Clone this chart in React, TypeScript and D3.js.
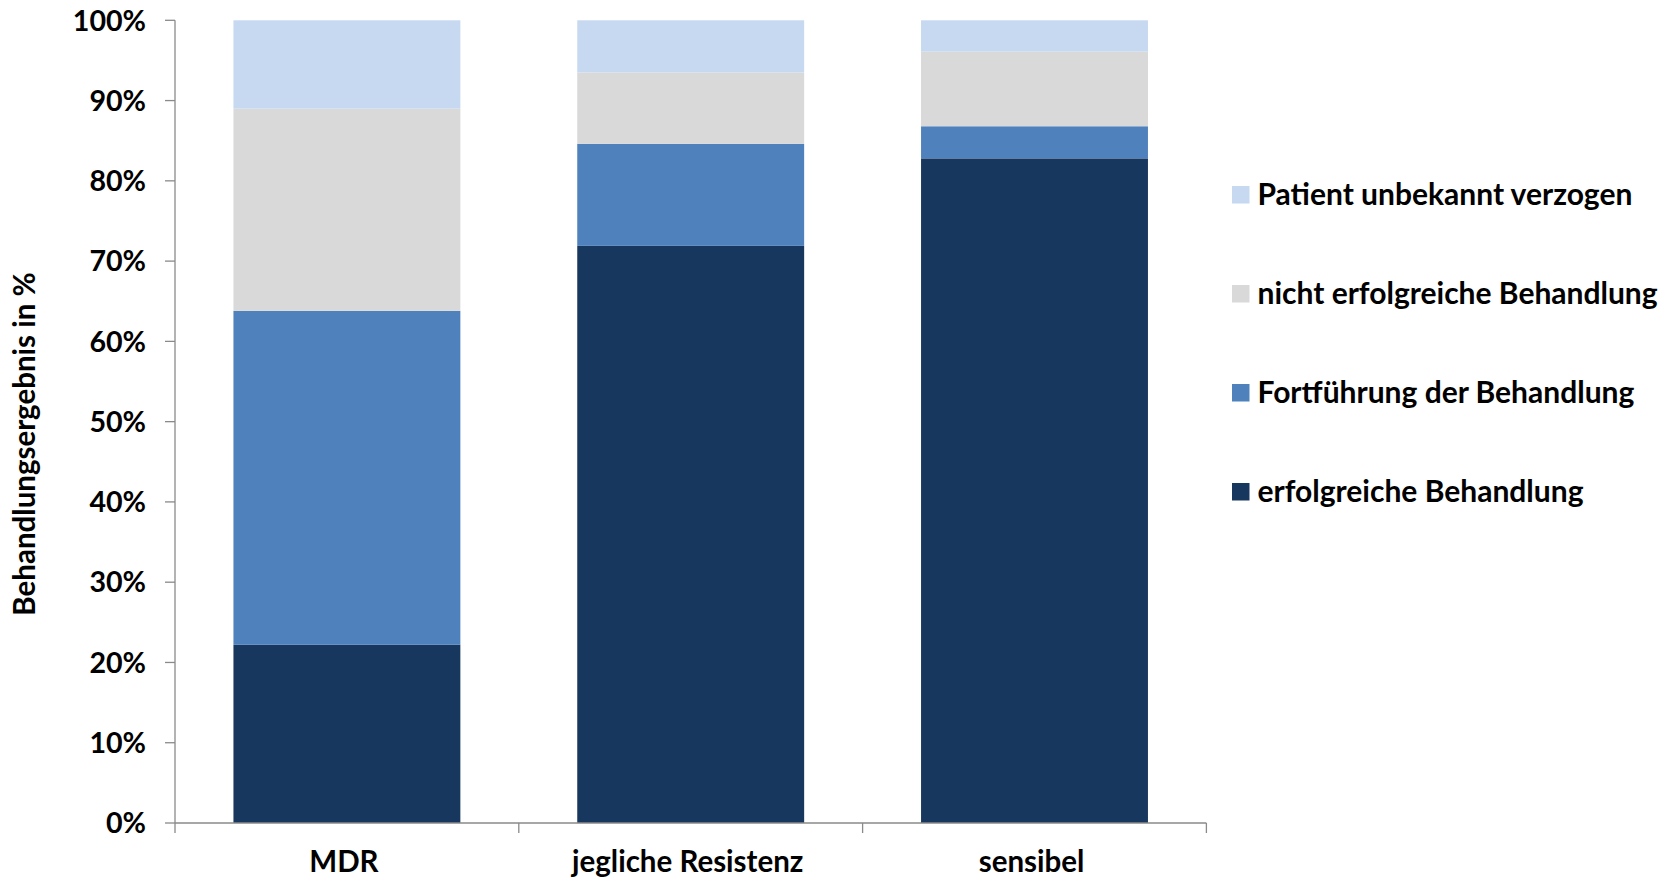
import React from "react";
import * as d3 from "d3";

const categories = ["MDR", "jegliche Resistenz", "sensibel"];
const seriesNames = [
  "erfolgreiche Behandlung",
  "Fortführung der Behandlung",
  "nicht erfolgreiche Behandlung",
  "Patient unbekannt verzogen",
];
const erfolgreich = [22.2, 71.9, 82.8];
const fortfuehrung = [41.6, 12.7, 4.0];
const nichtErfolgreich = [25.2, 8.9, 9.3];
const unbekannt = [11.0, 6.5, 3.9];
const yTicks = [0, 10, 20, 30, 40, 50, 60, 70, 80, 90, 100];
const colors = ["#18375E", "#4F81BD", "#D9D9D9", "#C6D9F1"];

const W = 1674;
const H = 881;
const FONT = "Lato, 'Open Sans', sans-serif";

export default function App() {
  const rows = categories.map((c, i) => ({
    cat: c,
    s0: erfolgreich[i],
    s1: fortfuehrung[i],
    s2: nichtErfolgreich[i],
    s3: unbekannt[i],
  }));
  const stack = d3.stack<any>().keys(["s0", "s1", "s2", "s3"]);
  const stacked = stack(rows);

  const x = d3
    .scaleBand<string>()
    .domain(categories)
    .range([175, 1206.4])
    .paddingInner(0.34)
    .paddingOuter(0.17);
  const y = d3.scaleLinear().domain([0, 100]).range([823, 20.3]);
  const step = x.step();
  const x0 = 175;
  const x1 = 1206.4;
  const axisColor = "#8A8A8A";

  const legendOrder = [3, 2, 1, 0];
  const legendY = d3
    .scalePoint<number>()
    .domain(legendOrder)
    .range([194.5, 491.5]);

  return (
    <div style={{ position: "absolute", left: 0, top: 0 }}>
      <svg width={W} height={H} style={{ display: "block" }}>
        <rect width={W} height={H} fill="#fff" />
        {stacked.map((layer, li) => (
          <g key={li} fill={colors[li]}>
            {layer.map((d: any, i: number) => (
              <rect
                key={i}
                x={x(d.data.cat)}
                width={x.bandwidth()}
                y={y(d[1])}
                height={y(d[0]) - y(d[1])}
              />
            ))}
          </g>
        ))}
        {/* y axis */}
        <line x1={x0} x2={x0} y1={y(100)} y2={y(0)} stroke={axisColor} strokeWidth={1.3} />
        {yTicks.map((t) => (
          <g key={t}>
            <line x1={x0 - 10} x2={x0} y1={y(t)} y2={y(t)} stroke={axisColor} strokeWidth={1.3} />
            <text
              x={146}
              y={y(t)}
              dy="0.36em"
              textAnchor="end"
              fontFamily={FONT}
              fontWeight="bold"
              fontSize={28.6}
              fill="#000"
            >
              {t}%
            </text>
          </g>
        ))}
        {/* x axis */}
        <line x1={x0} x2={x1} y1={y(0)} y2={y(0)} stroke={axisColor} strokeWidth={1.3} />
        {[0, 1, 2, 3].map((k) => (
          <line
            key={k}
            x1={x0 + k * step}
            x2={x0 + k * step}
            y1={y(0)}
            y2={y(0) + 10}
            stroke={axisColor}
            strokeWidth={1.3}
          />
        ))}
        {categories.map((c) => (
          <text
            key={c}
            x={(x(c) as number) + x.bandwidth() / 2 - 3}
            y={872}
            textAnchor="middle"
            fontFamily={FONT}
            fontWeight="bold"
            fontSize={29.5}
            fill="#000"
          >
            {c}
          </text>
        ))}
        {/* y title */}
        <text
          transform={`translate(35, 444) rotate(-90)`}
          textAnchor="middle"
          fontFamily={FONT}
          fontWeight="bold"
          fontSize={29.5}
          fill="#000"
        >
          Behandlungsergebnis in %
        </text>
        {/* legend */}
        {legendOrder.map((si) => (
          <g key={si} transform={`translate(1232, ${legendY(si)})`}>
            <rect x={0} y={-8.5} width={17.5} height={17.5} fill={colors[si]} />
            <text
              x={25.5}
              y={0}
              dy="0.36em"
              fontFamily={FONT}
              fontWeight="bold"
              fontSize={30}
              fill="#000"
            >
              {seriesNames[si]}
            </text>
          </g>
        ))}
      </svg>
    </div>
  );
}
